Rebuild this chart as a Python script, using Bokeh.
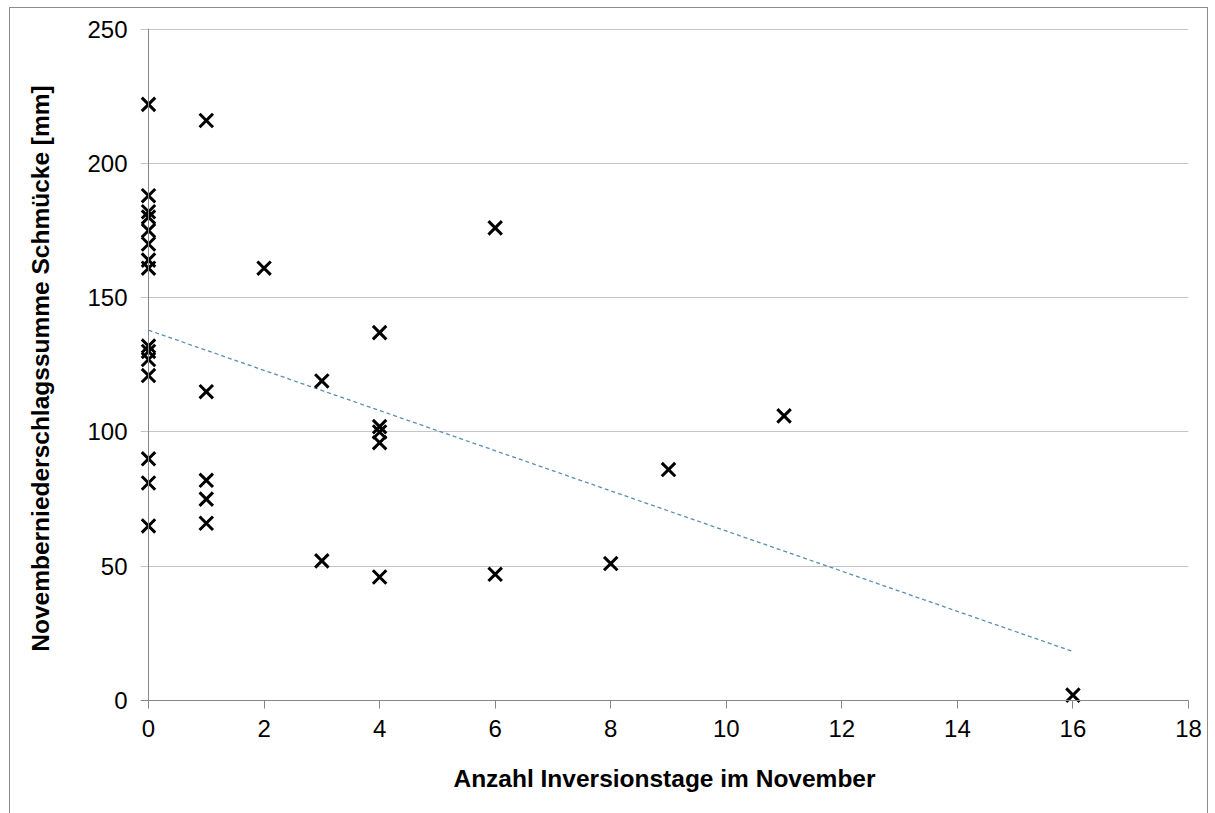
import numpy as np
from bokeh.plotting import figure
from bokeh.models import Range1d, FixedTicker, Span
from bokeh.embed import file_html
from bokeh.resources import INLINE

# Anzahl Inversionstage im November (x) und Novemberniederschlagssumme Schmücke in mm (y)
inversion_days = [0, 0, 0, 0, 0, 0, 0, 0, 0, 0, 0, 0, 0, 0, 0,
                  1, 1, 1, 1, 1,
                  2,
                  3, 3,
                  4, 4, 4, 4, 4,
                  6, 6,
                  8, 9, 11, 16]
precip_mm = [222, 188, 182, 180, 175, 170, 164, 161, 132, 130, 127, 121, 90, 81, 65,
             216, 115, 82, 75, 66,
             161,
             119, 52,
             137, 102, 100, 96, 46,
             176, 47,
             51, 86, 106, 2]

x_ticks = [0, 2, 4, 6, 8, 10, 12, 14, 16, 18]
y_ticks = [0, 50, 100, 150, 200, 250]

FONT = "Liberation Sans"
AXIS_GREY = "#868686"

# small pads beyond 0 so that markers on the axes are not cut, and the
# grid / axis lines poke out like the outward ticks of the original
X_PAD = 8 / 57.8
Y_PAD = 8 / 2.688

p = figure(width=1197, height=805, output_backend="svg", toolbar_location=None,
           x_range=Range1d(-X_PAD, 18), y_range=Range1d(-Y_PAD, 250.25),
           min_border_left=130, min_border_right=19, min_border_top=20,
           min_border_bottom=105)
p.styles = {"margin-left": "10px", "margin-top": "8px",
            "outline": "1px solid #8c8c8c"}
p.outline_line_color = None
p.background_fill_color = "white"
p.border_fill_color = "white"

p.xgrid.grid_line_color = None
p.ygrid.grid_line_color = "#c4c4c4"
p.ygrid.grid_line_width = 1

for ax in (p.xaxis[0], p.yaxis[0]):
    ax.axis_line_color = None
    ax.minor_tick_line_color = None
    ax.major_label_text_font = FONT
    ax.major_label_text_font_size = "24px"
    ax.major_label_text_color = "black"
    ax.axis_label_text_font = FONT
    ax.axis_label_text_font_style = "bold"
    ax.axis_label_text_font_size = "24.5px"
    ax.axis_label_text_color = "black"

# x ticks: drawn from the frame bottom up to the zero line (outward ticks)
p.xaxis.major_tick_line_color = AXIS_GREY
p.xaxis.major_tick_in = 8
p.xaxis.major_tick_out = 0
p.yaxis.major_tick_line_color = None
p.yaxis.major_tick_in = 0
p.yaxis.major_tick_out = 0

p.xaxis.ticker = FixedTicker(ticks=x_ticks)
p.yaxis.ticker = FixedTicker(ticks=y_ticks)
p.xaxis.major_label_standoff = 11
p.yaxis.major_label_standoff = 13
p.xaxis.axis_label = "Anzahl Inversionstage im November"
p.yaxis.axis_label = "Novemberniederschlagssumme Schmücke [mm]"
p.xaxis.axis_label_standoff = 25
p.yaxis.axis_label_standoff = 30

# axis lines at zero
p.add_layout(Span(location=0, dimension="width", line_color=AXIS_GREY, line_width=1))
p.add_layout(Span(location=0, dimension="height", line_color=AXIS_GREY, line_width=1))

# linear trend line (as in the original spreadsheet chart)
xa = np.array(inversion_days, dtype=float)
ya = np.array(precip_mm, dtype=float)
slope, intercept = np.polyfit(xa, ya, 1)
tx = [xa.min(), xa.max()]
ty = [intercept + slope * v for v in tx]
p.line(tx, ty, line_color="#5a8fae", line_width=1.3, line_dash="4 3")

p.scatter(inversion_days, precip_mm, marker="x", size=19,
          line_color="black", line_width=3)

open("out.html", "w").write(file_html(p, INLINE))
